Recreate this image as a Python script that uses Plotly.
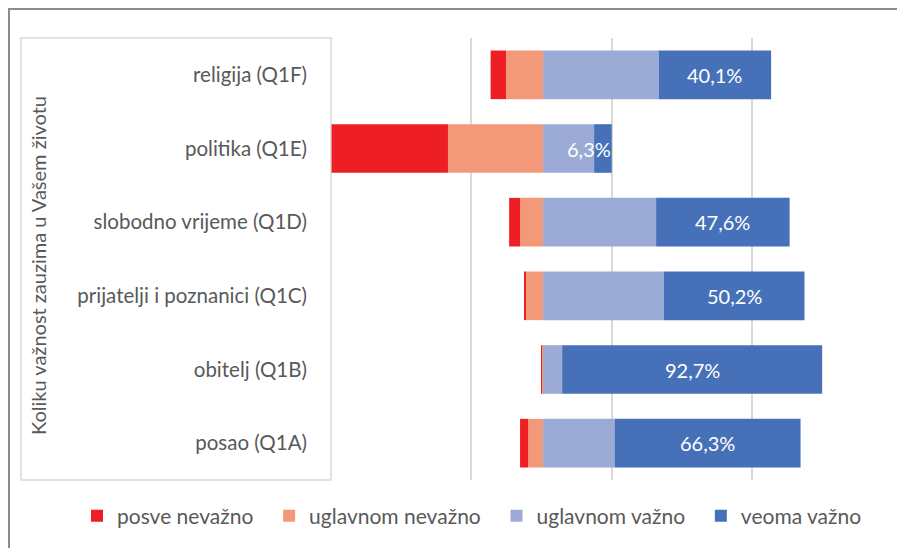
import plotly.graph_objects as go

categories = ["posao (Q1A)", "obitelj (Q1B)", "prijatelji i poznanici (Q1C)",
              "slobodno vrijeme (Q1D)", "politika (Q1E)", "religija (Q1F)"]
posve_nevazno = [2.9, 0.1, 0.7, 3.9, 41.5, 5.5]
uglavnom_nevazno = [5.3, 0.4, 6.1, 8.2, 33.9, 13.2]
uglavnom_vazno = [25.5, 6.8, 43.0, 40.3, 18.2, 41.2]
veoma_vazno = [66.3, 92.7, 50.2, 47.6, 6.3, 40.1]
series_names = ["posve nevažno", "uglavnom nevažno", "uglavnom važno", "veoma važno"]

C_RED = "#ED1F24"
C_SALMON = "#F4987A"
C_LB = "#9BABD5"
C_DB = "#4671B9"
FONT = "Lato"
GRAY = "#595959"
FS = 20
PAD = "\u00a0\u00a0"  # extra spacing between legend entries

fig = go.Figure()
# negative side: salmon closest to centre, then red
fig.add_trace(go.Bar(y=categories, x=[-v for v in uglavnom_nevazno], name=series_names[1] + PAD,
                     orientation="h", marker=dict(color=C_SALMON, line=dict(width=0)),
                     legendrank=2, hoverinfo="skip"))
fig.add_trace(go.Bar(y=categories, x=[-v for v in posve_nevazno], name=series_names[0] + PAD,
                     orientation="h", marker=dict(color=C_RED, line=dict(width=0)),
                     legendrank=1, hoverinfo="skip"))
fig.add_trace(go.Bar(y=categories, x=uglavnom_vazno, name=series_names[2] + PAD,
                     orientation="h", marker=dict(color=C_LB, line=dict(width=0)),
                     legendrank=3, hoverinfo="skip"))
fig.add_trace(go.Bar(y=categories, x=veoma_vazno, name=series_names[3],
                     orientation="h", marker=dict(color=C_DB, line=dict(width=0)),
                     legendrank=4, hoverinfo="skip"))

# value labels on the "veoma važno" segments
for cat, lb, db in zip(categories, uglavnom_vazno, veoma_vazno):
    label = f"{db:.1f}%".replace(".", ",")
    if db < 20:
        fig.add_annotation(x=lb + db, y=cat, text=label, showarrow=False, xanchor="right",
                           xshift=1, font=dict(family=FONT, size=FS, color="white"))
    else:
        fig.add_annotation(x=lb + db / 2, y=cat, text=label, showarrow=False, xanchor="center",
                           font=dict(family=FONT, size=FS, color="white"))

# page has an 8px body margin, so the figure is laid out 8px smaller / shifted
FW, FH = 897, 540
L, R, T, B = 323, 13, 30, 68
W = FW - L - R
H = FH - T - B

def px(x):
    return (x - L) / W

def py(y):
    return (FH - B - y) / H

# left category box
fig.add_shape(type="rect", xref="paper", yref="paper",
              x0=px(13), x1=0, y0=0, y1=1,
              line=dict(color="#D9D9D9", width=1.5), layer="below")
# outer border
fig.add_shape(type="rect", xref="paper", yref="paper",
              x0=px(1), x1=1.2, y0=-0.5, y1=py(1),
              line=dict(color="#8C8C8C", width=2), layer="below")

fig.add_annotation(xref="paper", yref="paper", x=px(30), y=py(257), xanchor="center",
                   yanchor="middle",
                   text="Koliku važnost zauzima u Vašem životu", textangle=-90,
                   showarrow=False, font=dict(family=FONT, size=FS, color=GRAY))

fig.update_layout(
    template="none",
    width=FW, height=FH,
    margin=dict(l=L, r=R, t=T, b=B, autoexpand=False),
    barmode="relative", bargap=0.34,
    paper_bgcolor="white", plot_bgcolor="white",
    font=dict(family=FONT, color=GRAY),
    xaxis=dict(range=[-75.6, 124.4], tick0=24.4, dtick=50, showticklabels=False,
               showgrid=True, gridcolor="#D9D9D9", gridwidth=1.5, zeroline=False,
               showline=False, fixedrange=True, automargin=False),
    yaxis=dict(categoryorder="array", categoryarray=categories, showgrid=False,
               zeroline=False, showline=False, ticks="", ticklabelstandoff=23,
               tickfont=dict(family=FONT, size=20.5, color=GRAY), fixedrange=True,
               automargin=False),
    legend=dict(orientation="h", xref="paper", x=px(69), xanchor="left",
                yref="paper", y=py(508), yanchor="middle",
                traceorder="normal", bgcolor="rgba(0,0,0,0)",
                font=dict(family=FONT, size=21, color=GRAY), itemwidth=30),
    showlegend=True,
)

fig.write_html("out.html")
